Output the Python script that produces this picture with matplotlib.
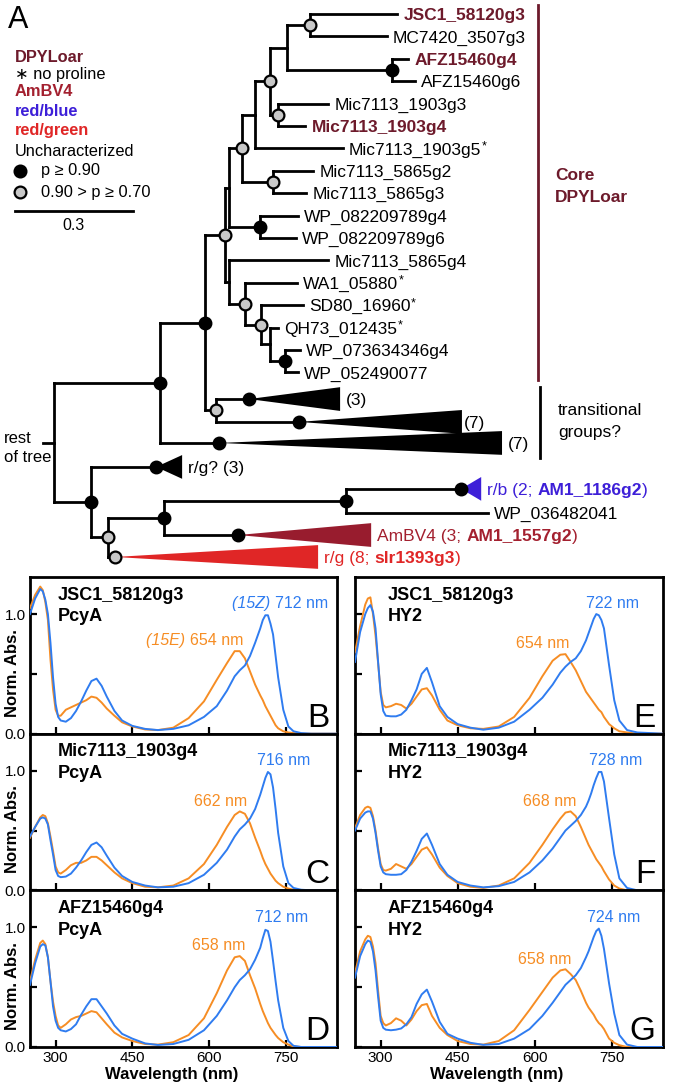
import matplotlib
matplotlib.use("Agg")
import matplotlib.pyplot as plt
from matplotlib.patches import Polygon

plt.rcParams["font.family"] = ["Liberation Sans", "DejaVu Sans"]

W, H = 677, 1090

DPY = "#6d1a2b"
AMB = "#a3202f"
RB = "#3d1fd8"
RG = "#e02626"
BLUE = "#2f7cf0"
ORANGE = "#f68d24"
GREY = "#c8c8c8"

# ---------------- tree data (depth in substitutions/site, row = leaf slot) ----------------
LEAF_NAMES = ["JSC1_58120g3", "MC7420_3507g3", "AFZ15460g4", "AFZ15460g6",
              "Mic7113_1903g3", "Mic7113_1903g4", "Mic7113_1903g5", "Mic7113_5865g2",
              "Mic7113_5865g3", "WP_082209789g4", "WP_082209789g6", "Mic7113_5865g4",
              "WA1_05880", "SD80_16960", "QH73_012435", "WP_073634346g4", "WP_052490077",
              "WP_036482041"]
LEAF_DEPTH = [0.873, 0.847, 0.901, 0.919, 0.697, 0.639, 0.735, 0.659, 0.641,
              0.621, 0.616, 0.697, 0.618, 0.634, 0.570, 0.626, 0.621, 1.104]
LEAF_ROW = [0, 1, 2, 3, 4, 5, 6, 7, 8, 9, 10, 11, 12, 13, 14, 15, 16, 22.28]
BOLD_LEAVES = ["JSC1_58120g3", "AFZ15460g4", "Mic7113_1903g4"]
NO_PROLINE = ["Mic7113_1903g5", "WA1_05880", "SD80_16960", "QH73_012435"]

# collapsed clades: name, root depth, tip depth, row
CLADE_NAMES = ["c3", "c7a", "c7b", "rgq", "rb", "amb", "rg"]
CLADE_ROOT = [0.496, 0.623, 0.420, 0.260, 1.036, 0.468, 0.155]
CLADE_TIP = [0.728, 1.038, 1.140, 0.326, 1.087, 0.807, 0.672]
CLADE_ROW = [17.19, 18.21, 19.15, 20.22, 21.2, 23.26, 24.24]
CLADE_SUPPORT = ["hi", "hi", "hi", "hi", "hi", "hi", "mid"]

# internal nodes: name, depth, children, support
NODE_NAMES = ["root", "nI", "nH", "nG", "nE", "nD", "nC", "nB", "nA", "nJM", "nAFZ",
              "n1903", "n5865", "nWP08", "nF", "nW", "nS", "nQ", "nQW", "nT",
              "nJ", "nK", "nL", "nM"]
NODE_DEPTH = [0.0, 0.270, 0.384, 0.435, 0.445, 0.478, 0.511, 0.550, 0.593, 0.651, 0.860,
              0.570, 0.557, 0.524, 0.445, 0.486, 0.527, 0.550, 0.588, 0.412,
              0.094, 0.137, 0.280, 0.743]
NODE_CHILDREN = [["nI", "nJ"], ["nH", "c7b"], ["nG", "nT"], ["nE", "nF"], ["nD", "nWP08"],
                 ["nC", "n5865"], ["nB", "Mic7113_1903g5"], ["nA", "n1903"], ["nJM", "nAFZ"],
                 ["JSC1_58120g3", "MC7420_3507g3"], ["AFZ15460g4", "AFZ15460g6"],
                 ["Mic7113_1903g3", "Mic7113_1903g4"], ["Mic7113_5865g2", "Mic7113_5865g3"],
                 ["WP_082209789g4", "WP_082209789g6"], ["Mic7113_5865g4", "nW"],
                 ["WA1_05880", "nS"], ["SD80_16960", "nQ"], ["QH73_012435", "nQW"],
                 ["WP_073634346g4", "WP_052490077"], ["c3", "c7a"],
                 ["rgq", "nK"], ["nL", "rg"], ["nM", "amb"], ["rb", "WP_036482041"]]
NODE_SUPPORT = [None, "hi", "hi", "mid", None, "mid", None, "mid", None, "mid", "hi",
                "mid", "mid", "hi", None, "mid", "mid", None, "hi", "mid",
                "hi", "mid", "hi", "hi"]
SCALE_LEN = 0.3

# ---------------- spectra data ----------------
WL = [250, 260, 270, 275, 280, 285, 290, 295, 300, 305, 310, 320, 330, 340, 350, 360,
      370, 380, 390, 400, 415, 430, 450, 475, 500, 530, 560, 590, 615, 635, 650, 660,
      670, 680, 690, 700, 705, 710, 715, 720, 725, 730, 735, 745, 755, 765, 780, 800, 850]

B_15Z = [1.00, 1.13, 1.21, 1.19, 1.12, 1.00, 0.76, 0.47, 0.25, 0.14, 0.11, 0.10, 0.13, 0.19, 0.27, 0.36,
         0.44, 0.46, 0.40, 0.31, 0.19, 0.11, 0.065, 0.04, 0.03, 0.04, 0.07, 0.14, 0.23, 0.36, 0.48, 0.53,
         0.57, 0.65, 0.76, 0.88, 0.95, 0.99, 0.99, 0.92, 0.83, 0.65, 0.47, 0.20, 0.06, 0.02, 0.005, 0, 0]
B_15E = [1.05, 1.16, 1.23, 1.20, 1.10, 0.95, 0.62, 0.37, 0.20, 0.15, 0.15, 0.20, 0.22, 0.24, 0.26, 0.28,
         0.31, 0.30, 0.26, 0.21, 0.15, 0.095, 0.06, 0.035, 0.03, 0.05, 0.13, 0.27, 0.45, 0.59, 0.69, 0.69,
         0.63, 0.52, 0.41, 0.32, 0.28, 0.23, 0.19, 0.15, 0.11, 0.07, 0.045, 0.02, 0.01, 0.005, 0, 0, 0]
C_15Z = [0.45, 0.53, 0.60, 0.61, 0.60, 0.55, 0.42, 0.30, 0.17, 0.12, 0.11, 0.115, 0.14, 0.19, 0.25, 0.32,
         0.38, 0.40, 0.36, 0.29, 0.19, 0.12, 0.07, 0.04, 0.025, 0.03, 0.06, 0.13, 0.23, 0.34, 0.45, 0.51,
         0.55, 0.60, 0.68, 0.80, 0.87, 0.94, 0.99, 0.97, 0.86, 0.68, 0.48, 0.20, 0.06, 0.02, 0.005, 0, 0]
C_15E = [0.44, 0.53, 0.61, 0.63, 0.62, 0.56, 0.45, 0.33, 0.20, 0.15, 0.14, 0.17, 0.21, 0.23, 0.23, 0.25,
         0.28, 0.28, 0.25, 0.21, 0.15, 0.10, 0.06, 0.03, 0.025, 0.04, 0.10, 0.22, 0.38, 0.53, 0.63, 0.66,
         0.64, 0.56, 0.44, 0.33, 0.27, 0.22, 0.18, 0.14, 0.11, 0.08, 0.06, 0.03, 0.015, 0.005, 0, 0, 0]
D_15Z = [0.52, 0.70, 0.84, 0.86, 0.85, 0.75, 0.55, 0.34, 0.22, 0.16, 0.14, 0.13, 0.15, 0.19, 0.27, 0.34,
         0.40, 0.40, 0.34, 0.28, 0.18, 0.11, 0.07, 0.03, 0.017, 0.025, 0.06, 0.14, 0.26, 0.39, 0.50, 0.56,
         0.60, 0.65, 0.73, 0.83, 0.91, 0.98, 0.97, 0.88, 0.72, 0.55, 0.39, 0.16, 0.05, 0.01, 0, 0, 0]
D_15E = [0.55, 0.73, 0.87, 0.89, 0.86, 0.75, 0.55, 0.38, 0.26, 0.18, 0.16, 0.19, 0.23, 0.25, 0.26, 0.28,
         0.30, 0.29, 0.24, 0.19, 0.12, 0.08, 0.05, 0.025, 0.02, 0.04, 0.10, 0.24, 0.45, 0.64, 0.75, 0.76,
         0.72, 0.60, 0.49, 0.36, 0.30, 0.25, 0.20, 0.16, 0.13, 0.10, 0.075, 0.04, 0.02, 0.005, 0, 0, 0]
E_15Z = [0.60, 0.85, 1.00, 1.05, 1.075, 1.02, 0.88, 0.60, 0.33, 0.19, 0.15, 0.145, 0.145, 0.16, 0.20, 0.28,
         0.37, 0.50, 0.55, 0.43, 0.23, 0.14, 0.08, 0.05, 0.033, 0.05, 0.10, 0.20, 0.30, 0.41, 0.51, 0.56,
         0.60, 0.63, 0.69, 0.78, 0.84, 0.90, 0.96, 1.00, 0.99, 0.95, 0.88, 0.57, 0.28, 0.11, 0.03, 0.01, 0]
E_15E = [0.68, 0.90, 1.08, 1.13, 1.14, 1.00, 0.82, 0.59, 0.35, 0.24, 0.22, 0.23, 0.25, 0.24, 0.21, 0.25,
         0.31, 0.37, 0.38, 0.32, 0.20, 0.11, 0.07, 0.045, 0.04, 0.06, 0.14, 0.30, 0.48, 0.61, 0.66, 0.665,
         0.60, 0.53, 0.44, 0.35, 0.32, 0.29, 0.26, 0.23, 0.20, 0.18, 0.14, 0.08, 0.045, 0.02, 0.01, 0, 0]
F_15Z = [0.50, 0.60, 0.65, 0.66, 0.66, 0.60, 0.48, 0.33, 0.20, 0.15, 0.135, 0.13, 0.13, 0.135, 0.17, 0.24,
         0.33, 0.43, 0.475, 0.38, 0.22, 0.13, 0.07, 0.04, 0.025, 0.035, 0.07, 0.15, 0.25, 0.35, 0.44, 0.50,
         0.54, 0.58, 0.63, 0.70, 0.75, 0.81, 0.88, 0.94, 0.99, 0.99, 0.91, 0.60, 0.30, 0.10, 0.02, 0, 0]
F_15E = [0.52, 0.63, 0.69, 0.70, 0.69, 0.62, 0.50, 0.35, 0.22, 0.17, 0.165, 0.18, 0.22, 0.20, 0.18, 0.22,
         0.28, 0.34, 0.36, 0.30, 0.19, 0.12, 0.06, 0.03, 0.02, 0.04, 0.10, 0.23, 0.38, 0.51, 0.60, 0.65,
         0.66, 0.62, 0.53, 0.43, 0.38, 0.34, 0.30, 0.26, 0.23, 0.20, 0.16, 0.09, 0.04, 0.015, 0, 0, 0]
G_15Z = [0.58, 0.76, 0.86, 0.89, 0.88, 0.80, 0.64, 0.42, 0.22, 0.16, 0.145, 0.14, 0.145, 0.155, 0.19, 0.25,
         0.36, 0.44, 0.48, 0.38, 0.21, 0.11, 0.07, 0.035, 0.018, 0.025, 0.07, 0.15, 0.26, 0.37, 0.46, 0.52,
         0.56, 0.60, 0.66, 0.75, 0.80, 0.86, 0.92, 0.97, 0.99, 0.93, 0.82, 0.53, 0.28, 0.10, 0.02, 0, 0]
G_15E = [0.62, 0.80, 0.90, 0.93, 0.92, 0.84, 0.70, 0.47, 0.26, 0.20, 0.18, 0.20, 0.24, 0.22, 0.18, 0.23,
         0.30, 0.35, 0.36, 0.26, 0.16, 0.10, 0.05, 0.025, 0.02, 0.05, 0.14, 0.31, 0.46, 0.58, 0.64, 0.65,
         0.61, 0.56, 0.47, 0.37, 0.33, 0.30, 0.27, 0.23, 0.20, 0.18, 0.15, 0.07, 0.035, 0.015, 0, 0, 0]

PANEL_LETTERS = ["B", "C", "D", "E", "F", "G"]
PANEL_PROTEIN = ["JSC1_58120g3", "Mic7113_1903g4", "AFZ15460g4"] * 2
PANEL_ENZYME = ["PcyA"] * 3 + ["HY2"] * 3
PANEL_Z = [B_15Z, C_15Z, D_15Z, E_15Z, F_15Z, G_15Z]
PANEL_E = [B_15E, C_15E, D_15E, E_15E, F_15E, G_15E]
PEAK_Z = [712, 716, 712, 722, 728, 724]
PEAK_E = [654, 662, 658, 654, 668, 658]

# ---------------- figure ----------------
fig = plt.figure(figsize=(W / 100, H / 100), dpi=100)


def fxy(x, y):
    return x / W, 1 - y / H


# tree axes: 393 px per substitution unit, root at x=54 px, rows 22.4 px apart from y=14 px
TREE_H = 575
ax = fig.add_axes([0, 1 - TREE_H / H, 1, TREE_H / H])
ax.set_xlim(-54 / 393, (W - 54) / 393)
ax.set_ylim((TREE_H - 14) / 22.4, -14 / 22.4)
ax.axis("off")

depth = dict(zip(LEAF_NAMES, LEAF_DEPTH))
depth.update(zip(CLADE_NAMES, CLADE_ROOT))
depth.update(zip(NODE_NAMES, NODE_DEPTH))
row = dict(zip(LEAF_NAMES, LEAF_ROW))
row.update(zip(CLADE_NAMES, CLADE_ROW))
children = dict(zip(NODE_NAMES, NODE_CHILDREN))


def get_row(n):
    if n not in row:
        kids = children[n]
        row[n] = (get_row(kids[0]) + get_row(kids[-1])) / 2
    return row[n]


LW = 2.0
for n in NODE_NAMES:
    kids = children[n]
    ax.plot([depth[n], depth[n]], [get_row(kids[0]), get_row(kids[-1])], color="black",
            lw=LW, solid_capstyle="projecting", zorder=2)
    for k in kids:
        ax.plot([depth[n], depth[k]], [get_row(k), get_row(k)], color="black", lw=LW,
                solid_capstyle="projecting", zorder=2)
ax.plot([-0.028, 0], [get_row("root")] * 2, color="black", lw=LW, zorder=2)
fig.text(*fxy(4, 438), "rest", ha="left", va="center", fontsize=12)
fig.text(*fxy(4, 458), "of tree", ha="left", va="center", fontsize=12)

clade_col = {"c3": "black", "c7a": "black", "c7b": "black", "rgq": "black",
             "rb": RB, "amb": "#981c2e", "rg": RG}
for n, r0, tip, rw in zip(CLADE_NAMES, CLADE_ROOT, CLADE_TIP, CLADE_ROW):
    half = 0.53
    ax.add_patch(Polygon([(r0, rw), (tip, rw - half), (tip, rw + half)], closed=True,
                         facecolor=clade_col[n], edgecolor="none", zorder=2))


def marker(x, y, sup):
    if sup == "hi":
        ax.plot(x, y, "o", ms=8.5, mfc="black", mec="black", mew=1.5, zorder=4)
    elif sup == "mid":
        ax.plot(x, y, "o", ms=8.5, mfc=GREY, mec="black", mew=1.6, zorder=4)


for n, s in zip(NODE_NAMES, NODE_SUPPORT):
    marker(depth[n], get_row(n), s)
for n, s in zip(CLADE_NAMES, CLADE_SUPPORT):
    marker(depth[n], get_row(n), s)

for name, d, r in zip(LEAF_NAMES, LEAF_DEPTH, LEAF_ROW):
    bold = name in BOLD_LEAVES
    t = ax.annotate(name, xy=(d, r), xytext=(4.5, 0), textcoords="offset points",
                    ha="left", va="center_baseline", fontsize=12.5,
                    fontweight="bold" if bold else "normal", color=DPY if bold else "black")
    if name in NO_PROLINE:
        ax.annotate("*", xy=(1, 0.75), xycoords=t, ha="left", va="center", fontsize=9)


def chain(x, y, parts, color, offset=4.5):
    t = ax.annotate(parts[0][0], xy=(x, y), xytext=(offset, 0), textcoords="offset points",
                    ha="left", va="center_baseline", fontsize=12.5, color=color,
                    fontweight=parts[0][1])
    for txt, wt in parts[1:]:
        t = ax.annotate(txt, xy=(1, 0), xycoords=t, ha="left", va="bottom", fontsize=12.5,
                        color=color, fontweight=wt)


clade_tip = dict(zip(CLADE_NAMES, CLADE_TIP))
chain(clade_tip["c3"], row["c3"], [("(3)", "normal")], "black")
chain(clade_tip["c7a"], row["c7a"], [("(7)", "normal")], "black", 1.5)
chain(clade_tip["c7b"], row["c7b"], [("(7)", "normal")], "black")
chain(clade_tip["rgq"], row["rgq"], [("r/g? (3)", "normal")], "black")
chain(clade_tip["rb"], row["rb"], [("r/b (2; ", "normal"), ("AM1_1186g2", "bold"), (")", "normal")], RB)
chain(clade_tip["amb"], row["amb"], [("AmBV4 (3; ", "normal"), ("AM1_1557g2", "bold"), (")", "normal")], AMB)
chain(clade_tip["rg"], row["rg"], [("r/g (8; ", "normal"), ("slr1393g3", "bold"), (")", "normal")], RG)

# group bars
ax.plot([1.232, 1.232], [-0.4, 16.34], color=DPY, lw=2)
ax.text(1.275, 7.2, "Core", color=DPY, fontsize=12.5, fontweight="bold", va="center")
ax.text(1.275, 8.2, "DPYLoar", color=DPY, fontsize=12.5, fontweight="bold", va="center")
ax.plot([1.237, 1.237], [16.65, 19.8], color="black", lw=2)
ax.text(1.283, 17.7, "transitional", fontsize=12.5, va="center")
ax.text(1.283, 18.7, "groups?", fontsize=12.5, va="center")

# scale bar
ax.plot([-0.0992, -0.0992 + SCALE_LEN], [8.79, 8.79], color="black", lw=2)
ax.text(-0.0992 + SCALE_LEN / 2, 9.45, "0.3", ha="center", va="center", fontsize=11.5)

# legend
fig.text(*fxy(8, 20), "A", fontsize=22, va="center", ha="left")
legend_items = [("DPYLoar", DPY, "bold"), ("\u2217 no proline", "black", "normal"),
                ("AmBV4", AMB, "bold"), ("red/blue", RB, "bold"), ("red/green", RG, "bold"),
                ("Uncharacterized", "black", "normal")]
legend_y = [57, 74, 92, 111, 131, 152]
for (txt, col, wt), yy in zip(legend_items, legend_y):
    fig.text(*fxy(15, yy), txt, color=col, fontweight=wt, fontsize=11.8, va="center")
for yy, sup, txt in [(171, "hi", "p \u2265 0.90"), (192, "mid", "0.90 > p \u2265 0.70")]:
    x0, y0 = fxy(20, yy)
    ax.plot([x0], [y0], "o", ms=8.5, mfc="black" if sup == "hi" else GREY, mec="black",
            mew=1.6, transform=fig.transFigure, clip_on=False)
    fig.text(*fxy(41, yy), txt, fontsize=11.8, va="center")

# ---------------- spectra ----------------
COL_X = [(30, 337), (355, 663)]
TOP, BOT = 577, 1047
PH = (BOT - TOP) / 3
for i in range(6):
    col, r = divmod(i, 3)
    x0, x1 = COL_X[col]
    y1 = TOP + r * PH
    a = fig.add_axes([x0 / W, 1 - (y1 + PH) / H, (x1 - x0) / W, PH / H])
    a.plot(WL, PANEL_E[i], color=ORANGE, lw=1.4, zorder=3)
    a.plot(WL, PANEL_Z[i], color=BLUE, lw=1.4, zorder=3)
    a.set_xlim(250, 850)
    a.set_ylim(0, 1.31)
    for s in a.spines.values():
        s.set_linewidth(2.0)
    a.tick_params(direction="in", length=5, width=1.6, labelsize=11, pad=3)
    a.set_xticks([300, 450, 600, 750])
    a.set_yticks([0, 0.5, 1.0])
    if col == 0:
        a.set_yticklabels(["0.0", "", "1.0"])
        a.text(-0.057, 0.39, "Norm. Abs.", rotation=90, ha="center", va="center",
               fontsize=12, fontweight="bold", transform=a.transAxes)
    else:
        a.set_yticklabels([])
    if r == 2:
        a.set_xlabel("Wavelength (nm)", fontsize=12, fontweight="bold")
        a.xaxis.set_label_coords(0.46, -0.125)
    else:
        a.set_xticklabels([])
    tx = 0.09 if col == 0 else 0.107
    a.text(tx, 0.885, PANEL_PROTEIN[i], transform=a.transAxes,
           fontsize=13, fontweight="bold", va="center")
    a.text(tx, 0.745, PANEL_ENZYME[i], transform=a.transAxes,
           fontsize=13, fontweight="bold", va="center")
    a.text(0.975, 0.045, PANEL_LETTERS[i], transform=a.transAxes, fontsize=24,
           ha="right", va="baseline")
    ez = max(PANEL_E[i]) if False else max(PANEL_E[i][25:])
    te = a.annotate(f"{PEAK_E[i]} nm", xy=(PEAK_E[i], ez + 0.085), xytext=(-14.5, 0),
                    textcoords="offset points", color=ORANGE, fontsize=11.5,
                    ha="center", va="center")
    if i == 0:
        tz = a.annotate(f"{PEAK_Z[i]} nm", xy=(PEAK_Z[i], 1.085), xytext=(6, 0),
                        textcoords="offset points", color=BLUE, fontsize=11.5,
                        ha="left", va="center")
        a.annotate("(15Z) ", xy=(0, 0), xycoords=tz, ha="right", va="bottom",
                   color=BLUE, fontsize=11.5, style="italic")
        a.annotate("(15E) ", xy=(0, 0), xycoords=te, ha="right", va="bottom",
                   color=ORANGE, fontsize=11.5, style="italic")
    else:
        a.annotate(f"{PEAK_Z[i]} nm", xy=(PEAK_Z[i], 1.085), xytext=(11, 0),
                   textcoords="offset points", color=BLUE, fontsize=11.5,
                   ha="center", va="center")

fig.savefig("out.png", dpi=100)
